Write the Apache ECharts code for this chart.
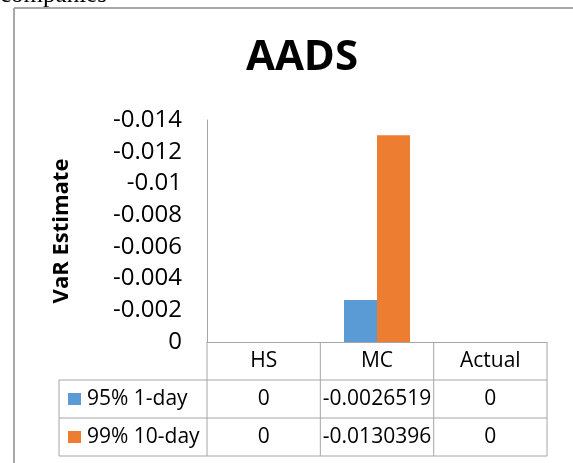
<!DOCTYPE html>
<html><head><meta charset="utf-8">
<script src="https://cdn.jsdelivr.net/npm/echarts@6/dist/echarts.min.js"></script>
<style>html,body{margin:0;padding:0;background:#fff;overflow:hidden}#c{width:573px;height:463px}</style>
</head><body><div id="c"></div>
<script>
const categories = ['HS', 'MC', 'Actual'];
const seriesNames = ['95% 1-day', '99% 10-day'];
const var95 = [0, -0.0026519, 0];
const var99 = [0, -0.0130396, 0];
const yTicks = [-0.014, -0.012, -0.01, -0.008, -0.006, -0.004, -0.002, 0];
const yTickLabels = ['-0.014', '-0.012', '-0.01', '-0.008', '-0.006', '-0.004', '-0.002', '0'];
const chartTitle = 'AADS';
const yAxisTitle = 'VaR Estimate';
const pageText = 'companies';

const colors = ['#5b9bd5', '#ed7d31'];
const gridLine = '#a6a6a6';
const FONT = 'Open Sans';

const chart = echarts.init(document.getElementById('c'), null, { renderer: 'canvas' });
chart.setOption({
  animation: false,
  grid: { left: 207, right: 26, top: 120, bottom: 121 },
  xAxis: {
    type: 'category', data: categories,
    axisLine: { lineStyle: { color: gridLine, width: 1 } },
    axisTick: { show: false }, axisLabel: { show: false }
  },
  yAxis: {
    type: 'value', inverse: true, min: -0.014, max: 0, interval: 0.002,
    axisLine: { show: true, lineStyle: { color: gridLine, width: 1 } },
    axisTick: { show: false }, splitLine: { show: false },
    axisLabel: {
      margin: 25, fontFamily: FONT, fontSize: 24, color: '#000',
      formatter: v => { const i = yTicks.findIndex(t => Math.abs(t - v) < 1e-9); return i >= 0 ? yTickLabels[i] : ''; }
    },
    name: yAxisTitle, nameLocation: 'middle', nameGap: 134, nameRotate: 90,
    nameTextStyle: { fontFamily: FONT, fontWeight: 'bold', fontSize: 22, color: '#000' }
  },
  series: [
    { type: 'bar', name: seriesNames[0], data: var95, barWidth: 33, barGap: '0%', itemStyle: { color: colors[0] } },
    { type: 'bar', name: seriesNames[1], data: var99, barWidth: 33, barGap: '0%', itemStyle: { color: colors[1] } }
  ]
});

// Data table below the plot, placed from the axis scales
const y0 = chart.convertToPixel({ yAxisIndex: 0 }, 0);
const xs = categories.map(c => chart.convertToPixel({ xAxisIndex: 0 }, c));
const band = xs[1] - xs[0];
const xL = xs[0] - band / 2, xR = xs[xs.length - 1] + band / 2;
const rowH = 38, legendLeft = 59;
const els = [];
function line(x1, y1, x2, y2, color, w) {
  els.push({ type: 'line', silent: true, shape: { x1, y1, x2, y2 }, style: { stroke: color || gridLine, lineWidth: w || 1 } });
}
function text(t, x, y, opts) {
  els.push({ type: 'text', silent: true, style: Object.assign({ text: t, x, y, fill: '#000', fontFamily: FONT, fontSize: 21, align: 'center', verticalAlign: 'middle' }, opts || {}) });
}
// frame
line(14, 8, 14, 463, '#a8a8a8', 2);
line(14, 8, 573, 8, '#a8a8a8', 2);
text(pageText, 0, 8, { fontFamily: 'Liberation Serif', fontSize: 25, align: 'left', verticalAlign: 'bottom' });
// title
text(chartTitle, 302, 58, { fontWeight: 'bold', fontSize: 42 });
// table lines
line(xL, y0 + 3 * rowH, xL, y0);
for (let r = 1; r <= 3; r++) line(legendLeft, y0 + r * rowH, xR, y0 + r * rowH);
line(legendLeft, y0 + rowH, legendLeft, y0 + 3 * rowH);
for (let i = 1; i <= categories.length; i++) line(xL + i * band, y0, xL + i * band, y0 + 3 * rowH);
// header
categories.forEach((c, i) => text(c, xs[i], y0 + rowH / 2));
// rows
const rows = [var95, var99];
rows.forEach((vals, r) => {
  const yc = y0 + rowH * (r + 1.5);
  vals.forEach((v, i) => text(String(v), xs[i], yc));
  els.push({ type: 'rect', silent: true, shape: { x: 68, y: yc - 6, width: 13, height: 12 }, style: { fill: colors[r] } });
  text(seriesNames[r], 87, yc, { align: 'left' });
});
chart.setOption({ graphic: { elements: els } });
</script>
</body></html>
